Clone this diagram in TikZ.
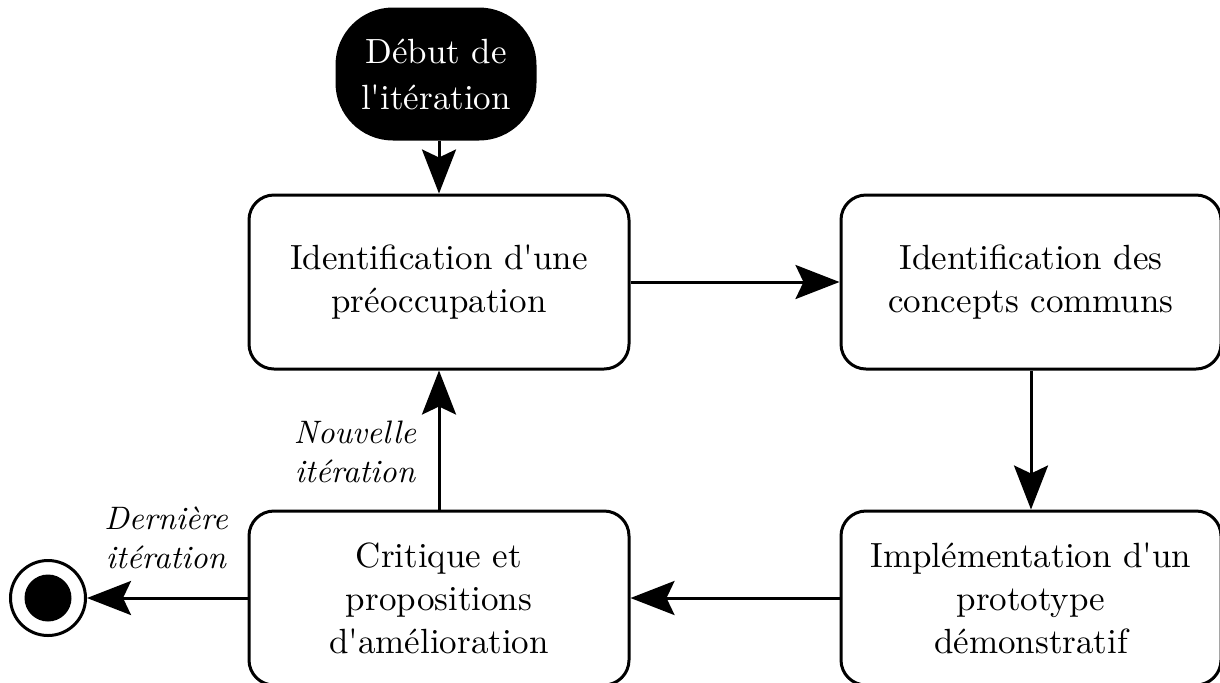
\documentclass[tikz,border=0pt]{standalone}
\usetikzlibrary{arrows.meta}
\DeclareFontFamily{TU}{lmrx}{}
\DeclareFontShape{TU}{lmrx}{m}{n}{<-> \UnicodeFontFile{lmroman10-regular}{\UnicodeFontTeXLigatures}}{}
\DeclareFontShape{TU}{lmrx}{m}{it}{<-> \UnicodeFontFile{lmroman10-italic}{\UnicodeFontTeXLigatures}}{}
\newcommand{\apos}{\textquotesingle}
\begin{document}
\begin{tikzpicture}[x=0.5pt,y=-0.5pt,
  box/.style={draw, line width=1.5pt, rounded corners=12.5pt, minimum width=190pt, minimum height=87pt, inner sep=0pt, align=center, font=\fontfamily{lmrx}\fontsize{17.5}{21.5}\selectfont},
  startbox/.style={fill=black, draw=black, line width=1.5pt, rounded corners=28pt, minimum width=99pt, minimum height=65pt, inner sep=0pt, align=center, text=white, font=\fontfamily{lmrx}\fontsize{17.5}{23}\selectfont},
  lbl/.style={align=center, font=\fontfamily{lmrx}\fontsize{16.25}{19.5}\selectfont\itshape},
  conn/.style={line width=1.5pt, -{Stealth[length=22pt,width=17pt,inset=4pt]}}]
\useasboundingbox (0,0) rectangle (1220,682);
\node[startbox] (start) at (436,74) {Début de\\l\apos itération};
\node[box] (b1) at (439,282) {Identification d\apos une\\préoccupation};
\node[box] (b2) at (1031,282) {Identification des\\concepts communs};
\node[box] (b3) at (1031,598) {Implémentation d\apos un\\prototype\\démonstratif};
\node[box] (b4) at (439,598) {Critique et\\propositions\\d\apos amélioration};
\node[circle, draw, line width=1.5pt, minimum size=37.5pt, inner sep=0pt] (end) at (48,598) {};
\fill (end.center) circle (11.75pt);
\node[lbl] (l1) at (355,452) {Nouvelle\\itération};
\node[lbl] (l2) at (166,538) {Dernière\\itération};
\draw[conn] (start.south -| b1.north) -- (b1.north);
\draw[conn] (b1.east) -- (b2.west);
\draw[conn] (b2.south) -- (b3.north);
\draw[conn] (b3.west) -- (b4.east);
\draw[conn] (b4.north) -- (b1.south);
\draw[conn] (b4.west) -- (end.east);
\end{tikzpicture}
\end{document}
